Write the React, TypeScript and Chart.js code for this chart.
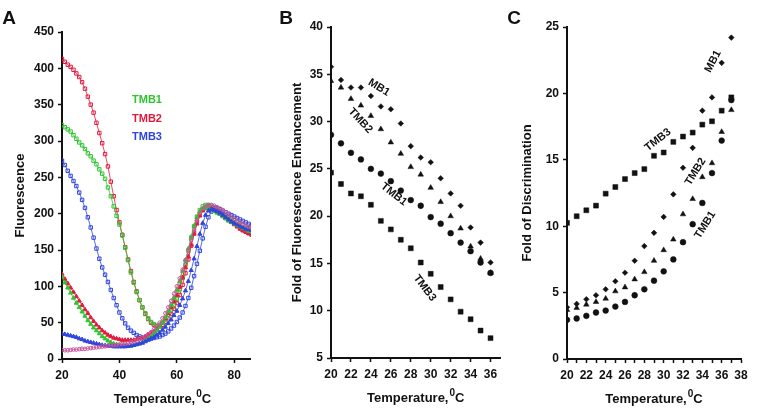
import React, { useEffect, useRef } from 'react';
import { Chart, registerables } from 'chart.js';
Chart.register(...registerables);

const FONT = "'Liberation Sans', Arial, Helvetica, sans-serif";

// ---------- Panel A : fluorescence melting curves ----------
const tempA = [20,21,22,23,24,25,26,27,28,29,30,31,32,33,34,35,36,37,38,39,40,41,42,43,44,45,46,47,48,49,50,51,52,53,54,55,56,57,58,59,60,61,62,63,64,65,66,67,68,69,70,71,72,73,74,75,76,77,78,79,80,81,82,83,84,85,86];
const tmb1Open = [322,319,316,313,308,303,298,294,289,283,279,273,268,261,255,248,236,224,210,197,185,170,153,136,119,105,92,81,71,63,56,51,48,46,47,50,55,61,68,75,83,96,112,130,149,167,183,196,205,210,212,212,211,209,207,204,201,198,196,193,191,188,186,184,182,180,178];
const tmb2Open = [413,409,405,402,398,393,388,381,372,361,350,339,325,311,297,282,265,244,224,205,188,171,154,137,121,106,93,81,71,62,55,50,47,45,45,47,51,56,62,69,77,88,102,118,137,156,174,189,200,206,209,210,209,207,204,201,198,195,192,189,186,183,180,177,175,173,171];
const tmb3Open = [273,267,259,252,245,238,229,219,208,195,181,167,152,138,126,116,106,95,84,74,64,56,49,43,39,36,33,31,29,28,28,28,29,30,31,33,35,38,42,46,51,57,64,73,84,98,114,131,149,166,182,195,203,207,207,206,204,202,200,198,196,194,192,190,188,186,184];
const tmb1Tri = [113,105,98,91,84,77,71,65,59,53,48,43,39,35,31,28,25,23,21,20,19,18,18,18,18,19,20,21,23,25,28,31,35,39,44,50,57,65,74,84,95,107,121,136,152,168,183,195,203,207,208,207,205,203,201,199,196,193,190,188,186,184,182,180,178,176,175];
const tmb2Tri = [117,110,104,98,92,86,80,74,68,63,57,52,47,43,39,36,33,31,29,28,27,26,26,26,26,26,27,28,29,31,33,35,38,41,45,50,56,63,71,79,88,99,112,126,141,157,172,186,197,204,207,208,207,205,203,200,197,194,191,188,185,182,179,177,175,173,172];
const tmb3Tri = [35,34,33,32,31,30,28,27,25,24,23,22,21,20,19,18.5,18,17.5,17,17,17,17,17,17.5,18,19,20,21,22,24,26,28,30,33,36,40,44,49,54,60,66,74,83,94,107,122,138,155,172,187,198,204,206,205,203,201,198,195,192,189,187,185,183,181,179,178,177];
const probeCirc = [12,12,12,12.5,13,13,13.5,14,14,14.5,15,15.5,16,16.5,17,17.5,18,18.5,19,19.5,20,20.5,21,22,23,24,25,27,29,31,34,37,41,45,50,56,63,71,80,90,100,111,123,136,150,164,178,191,201,207,210,212,212,211,209,207,205,202,199,196,193,190,188,186,184,182,181];
const legendA = ['TMB1', 'TMB2', 'TMB3'];
const ticksAX = [20, 40, 60, 80];
const ticksAY = [0, 50, 100, 150, 200, 250, 300, 350, 400, 450];

// ---------- Panel B : fold of fluorescence enhancement ----------
const tempB = [20,21,22,23,24,25,26,27,28,29,30,31,32,33,34,35,36];
const bMB1 = [35.8,34.4,33.6,33.6,32.7,31.6,31.3,29.8,27.4,26.2,25.7,24.0,22.4,21.1,18.8,17.2,15.1];
const bTMB2 = [34.3,33.6,32.4,31.7,30.6,29.2,27.8,26.6,25.2,24.4,23.0,21.5,20.0,18.7,16.8,15.5,14.0];
const bTMB1 = [28.6,27.7,26.7,26.0,25.0,24.5,23.7,22.7,21.7,21.1,19.9,19.2,18.2,17.2,16.3,15.1,14.0];
const bTMB3 = [24.6,23.4,22.4,22.1,21.2,19.5,18.6,17.5,16.6,15.1,13.9,12.5,11.2,9.9,9.1,7.9,7.1];
const ticksBX = [20,22,24,26,28,30,32,34,36];
const ticksBY = [5,10,15,20,25,30,35,40];

// ---------- Panel C : fold of discrimination ----------
const tempC = [20,21,22,23,24,25,26,27,28,29,30,31,32,33,34,35,36,37];
const cMB1 = [3.9,4.15,4.5,4.8,5.25,5.85,6.5,7.4,8.5,9.5,10.7,12.4,14.4,15.9,18.7,19.7,22.3,24.2];
const cTMB2 = [3.7,3.85,4.1,4.3,4.55,5.1,5.4,6.0,6.55,7.4,8.2,9.0,10.9,12.05,13.7,14.75,17.1,18.75];
const cTMB1 = [2.95,3.05,3.25,3.5,3.65,3.95,4.3,4.8,5.25,5.9,6.6,7.5,8.8,10.15,11.75,14.0,16.45,19.5];
const cTMB3 = [10.25,10.75,11.2,11.55,12.45,12.95,13.55,14.0,14.3,15.3,15.55,16.35,16.75,17.05,17.65,17.9,18.7,19.7];
const ticksCX = [20,21,22,23,24,25,26,27,28,29,30,31,32,33,34,35,36,37,38];
const ticksCY = [0,5,10,15,20,25];

const GREEN = '#2fc42f';
const RED = '#e3193c';
const BLUE = '#2f45dd';
const PINK = '#c8559e';
const INK = '#111111';

const pts = (xs: number[], ys: number[]) => xs.map((x, i) => ({ x, y: ys[i] }));

const textPlugin = {
  id: 'textAnno',
  afterDraw(chart: any, _args: any, opts: any) {
    const ctx = chart.ctx;
    const xs = chart.scales.x;
    const ys = chart.scales.y;
    const ca = chart.chartArea;
    ctx.save();
    ctx.textAlign = 'center';
    ctx.textBaseline = 'middle';
    for (const it of opts.items || []) {
      ctx.save();
      ctx.font = it.font;
      ctx.fillStyle = it.color || INK;
      ctx.translate(xs.getPixelForValue(it.x), ys.getPixelForValue(it.y));
      ctx.rotate(((it.angle || 0) * Math.PI) / 180);
      ctx.fillText(it.text, 0, 0);
      ctx.restore();
    }
    // panel letter
    if (opts.letter) {
      ctx.font = `bold 19px ${FONT}`;
      ctx.fillStyle = INK;
      ctx.fillText(opts.letter.text, opts.letter.x, opts.letter.y);
    }
    // y title
    if (opts.yTitle) {
      ctx.save();
      ctx.font = `bold 13px ${FONT}`;
      ctx.fillStyle = INK;
      ctx.translate(opts.yTitle.x, (ca.top + ca.bottom) / 2);
      ctx.rotate(-Math.PI / 2);
      ctx.fillText(opts.yTitle.text, 0, 0);
      ctx.restore();
    }
    // x title with superscript
    if (opts.xTitle) {
      const big = `bold 13px ${FONT}`;
      const small = `bold 10px ${FONT}`;
      const a = 'Temperature,';
      const b = '0';
      const c = 'C';
      ctx.font = big;
      const wa = ctx.measureText(a).width;
      const wc = ctx.measureText(c).width;
      ctx.font = small;
      const wb = ctx.measureText(b).width;
      const total = wa + wb + wc + 1;
      let x0 = (ca.left + ca.right) / 2 - total / 2 + (opts.xTitle.dx || 0);
      const y0 = ca.bottom + opts.xTitle.dy;
      ctx.textAlign = 'left';
      ctx.textBaseline = 'alphabetic';
      ctx.fillStyle = INK;
      ctx.font = big;
      ctx.fillText(a, x0, y0);
      x0 += wa + 1;
      ctx.font = small;
      ctx.fillText(b, x0, y0 - 6);
      x0 += wb;
      ctx.font = big;
      ctx.fillText(c, x0, y0);
    }
    ctx.restore();
  },
};

function axis(min: number, max: number, ticks: number[], size: number, horizontal: boolean, labelFn?: (v: number) => string) {
  return {
    type: 'linear',
    min,
    max,
    afterBuildTicks: (s: any) => {
      s.ticks = ticks.map((v) => ({ value: v }));
    },
    afterFit: (s: any) => {
      if (horizontal) s.height = size;
      else s.width = size;
    },
    grid: {
      display: true,
      drawOnChartArea: false,
      drawTicks: true,
      tickLength: 4,
      tickColor: INK,
      tickWidth: 1.5,
    },
    border: { display: true, color: INK, width: 2 },
    ticks: {
      color: INK,
      font: { family: FONT, size: 12, weight: 'bold' },
      padding: horizontal ? 5 : 4,
      maxRotation: 0,
      autoSkip: false,
      callback: (v: any) => (labelFn ? labelFn(Number(v)) : String(v)),
    },
  };
}

function baseOptions(padding: any, scales: any, anno: any) {
  return {
    responsive: false,
    maintainAspectRatio: false,
    animation: false,
    layout: { padding },
    plugins: {
      legend: { display: false },
      tooltip: { enabled: false },
      textAnno: anno,
    },
    scales,
  };
}

function lineSet(data: number[], color: string, style: string, radius: number, open: boolean) {
  return {
    data: pts(tempA, data),
    showLine: true,
    borderColor: color,
    borderWidth: 0.8,
    pointStyle: style,
    pointRadius: radius,
    pointBorderColor: color,
    pointBorderWidth: 1,
    pointBackgroundColor: open ? 'rgba(255,255,255,0)' : color,
  };
}

function dotSet(xs: number[], data: number[], style: string, radius: number) {
  return {
    data: pts(xs, data),
    showLine: false,
    pointStyle: style,
    pointRadius: radius,
    pointBorderColor: INK,
    pointBorderWidth: 0.5,
    pointBackgroundColor: INK,
  };
}

export default function App() {
  const refA = useRef<HTMLCanvasElement>(null);
  const refB = useRef<HTMLCanvasElement>(null);
  const refC = useRef<HTMLCanvasElement>(null);

  useEffect(() => {
    const charts: Chart[] = [];

    charts.push(
      new Chart(refA.current as HTMLCanvasElement, {
        type: 'scatter',
        data: {
          datasets: [
            lineSet(probeCirc, PINK, 'circle', 1.8, true),
            lineSet(tmb3Tri, BLUE, 'triangle', 2.4, false),
            lineSet(tmb1Tri, GREEN, 'triangle', 2.4, false),
            lineSet(tmb2Tri, RED, 'triangle', 2.4, false),
            lineSet(tmb3Open, BLUE, 'rect', 2.4, true),
            lineSet(tmb1Open, GREEN, 'rect', 2.4, true),
            lineSet(tmb2Open, RED, 'rect', 2.4, true),
          ] as any,
        },
        options: baseOptions(
          { left: 0, top: 32, right: 12, bottom: 0 },
          {
            x: axis(20, 90, ticksAX, 61, true),
            y: axis(0, 450, ticksAY, 62, false),
          },
          {
            items: [
              { text: legendA[0], x: 49.6, y: 356, angle: 0, color: GREEN, font: `bold 11px ${FONT}` },
              { text: legendA[1], x: 49.6, y: 331, angle: 0, color: RED, font: `bold 11px ${FONT}` },
              { text: legendA[2], x: 49.6, y: 306, angle: 0, color: BLUE, font: `bold 11px ${FONT}` },
            ],
            letter: { text: 'A', x: 9, y: 19 },
            yTitle: { text: 'Fluorescence', x: 20 },
            xTitle: { dy: 44 },
          }
        ) as any,
        plugins: [textPlugin],
      })
    );

    charts.push(
      new Chart(refB.current as HTMLCanvasElement, {
        type: 'scatter',
        data: {
          datasets: [
            dotSet(tempB, bMB1, 'rectRot', 2.8),
            dotSet(tempB, bTMB2, 'triangle', 3.2),
            dotSet(tempB, bTMB1, 'circle', 2.9),
            dotSet(tempB, bTMB3, 'rect', 3.5),
          ] as any,
        },
        options: baseOptions(
          { left: 0, top: 27, right: 2, bottom: 0 },
          {
            x: axis(20, 37, ticksBX, 62, true),
            y: axis(5, 40, ticksBY, 80, false),
          },
          {
            items: [
              { text: 'MB1', x: 24.8, y: 33.6, angle: 32, font: `bold 11px ${FONT}` },
              { text: 'TMB2', x: 22.95, y: 30.1, angle: 47, font: `bold 11px ${FONT}` },
              { text: 'TMB1', x: 26.3, y: 22.3, angle: 38, font: `bold 11px ${FONT}` },
              { text: 'TMB3', x: 29.4, y: 12.4, angle: 53, font: `bold 11px ${FONT}` },
            ],
            letter: { text: 'B', x: 35, y: 19 },
            yTitle: { text: 'Fold of Fluorescence Enhancement', x: 46 },
            xTitle: { dy: 44 },
          }
        ) as any,
        plugins: [textPlugin],
      })
    );

    charts.push(
      new Chart(refC.current as HTMLCanvasElement, {
        type: 'scatter',
        data: {
          datasets: [
            dotSet(tempC, cMB1, 'rectRot', 2.8),
            dotSet(tempC, cTMB2, 'triangle', 3.2),
            dotSet(tempC, cTMB1, 'circle', 2.9),
            dotSet(tempC, cTMB3, 'rect', 3.5),
          ] as any,
        },
        options: baseOptions(
          { left: 0, top: 27, right: 17, bottom: 0 },
          {
            x: axis(20, 38, ticksCX, 61, true, (v) => (v % 2 === 0 ? String(v) : '')),
            y: axis(0, 25, ticksCY, 62, false),
          },
          {
            items: [
              { text: 'TMB3', x: 29.4, y: 16.5, angle: -38, font: `bold 11px ${FONT}` },
              { text: 'MB1', x: 35.1, y: 22.4, angle: -62, font: `bold 11px ${FONT}` },
              { text: 'TMB2', x: 33.3, y: 14.1, angle: -58, font: `bold 11px ${FONT}` },
              { text: 'TMB1', x: 34.3, y: 10.1, angle: -58, font: `bold 11px ${FONT}` },
            ],
            letter: { text: 'C', x: 9, y: 19 },
            yTitle: { text: 'Fold of Discrimination', x: 22 },
            xTitle: { dy: 44 },
          }
        ) as any,
        plugins: [textPlugin],
      })
    );

    return () => charts.forEach((c) => c.destroy());
  }, []);

  return (
    <div style={{ position: 'fixed', left: 0, top: 0, width: 758, height: 420, background: '#fff', overflow: 'hidden' }}>
      <div style={{ position: 'absolute', left: 0, top: 0, width: 251, height: 420, overflow: 'hidden' }}>
        <canvas ref={refA} width={275} height={420} style={{ display: 'block' }} />
      </div>
      <canvas ref={refB} width={254} height={420} style={{ position: 'absolute', left: 251, top: 0, display: 'block' }} />
      <canvas ref={refC} width={253} height={420} style={{ position: 'absolute', left: 505, top: 0, display: 'block' }} />
    </div>
  );
}
